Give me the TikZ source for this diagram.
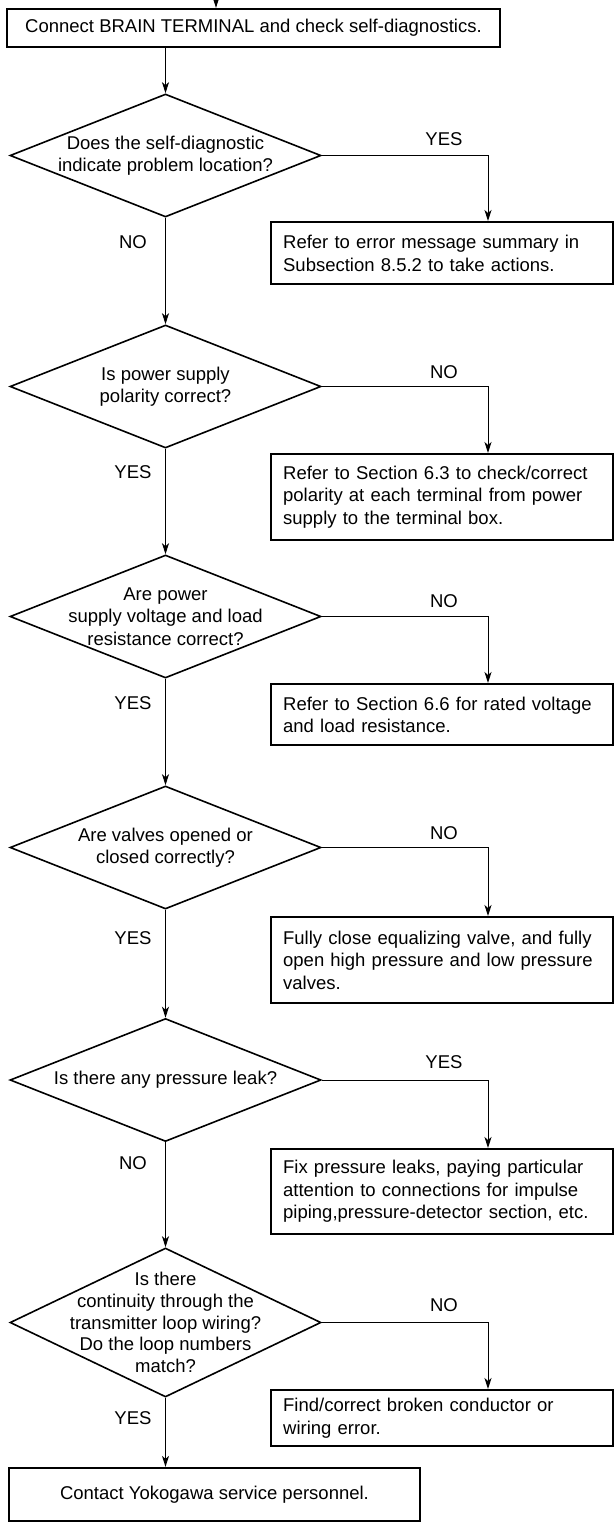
\documentclass[tikz,border=0pt]{standalone}
\usepackage{fontspec}
\setmainfont{Liberation Sans}
\usetikzlibrary{arrows.meta,shapes.geometric}
\begin{document}
\begin{tikzpicture}[x=1pt,y=-1pt,
  every node/.style={font=\fontsize{18.5}{22.5}\selectfont},
  boxr/.style={draw,line width=2.3pt,rectangle,minimum width=342pt,text width=318pt,inner xsep=12pt,inner ysep=0pt,align=left,anchor=north west},
  dia/.style={draw,line width=1.6pt,diamond,minimum width=311pt,minimum height=123pt,inner sep=0pt},
  dtext/.style={align=center,inner sep=0pt},
  lab/.style={inner sep=0pt},
  arr/.style={line width=1pt,-{Stealth[length=11pt,width=7pt,inset=3pt]}},
]
\useasboundingbox (0,0) rectangle (613,1523);
\coordinate (top) at (216,0);
\coordinate (brx) at (488,0);

\node[draw,line width=2.3pt,rectangle,minimum width=493pt,minimum height=38pt,inner sep=0pt] (b1) at (253.5,28) {Connect BRAIN TERMINAL and check self-diagnostics.};

\node[dia] (d1) at (165.5,155.5) {};
\node[dtext] (t1) at (d1) {Does the self-diagnostic\\indicate problem location?};
\node[boxr,minimum height=62pt] (b2) at (270,221) {Refer to error message summary in\\Subsection 8.5.2 to take actions.};

\node[dia] (d2) at (165.5,386.5) {};
\node[dtext] (t2) at (d2) {Is power supply\\polarity correct?};
\node[boxr,minimum height=86pt] (b3) at (270,453) {Refer to Section 6.3 to check/correct\\polarity at each terminal from power\\supply to the terminal box.};

\node[dia] (d3) at (165.5,616.5) {};
\node[dtext] (t3) at (d3) {Are power\\supply voltage and load\\resistance correct?};
\node[boxr,minimum height=61pt] (b4) at (270,683) {Refer to Section 6.6 for rated voltage\\and load resistance.};

\node[dia] (d4) at (165.5,847.5) {};
\node[dtext] (t4) at (d4) {Are valves opened or\\closed correctly?};
\node[boxr,minimum height=86pt] (b5) at (270,916) {Fully close equalizing valve, and fully\\open high pressure and low pressure\\valves.};

\node[dia] (d5) at (165.5,1080) {};
\node[dtext] (t5) at (d5) {Is there any pressure leak?};
\node[boxr,minimum height=85pt] (b6) at (270,1148) {Fix pressure leaks, paying particular\\attention to connections for impulse\\piping,pressure-detector section, etc.};

\node[dia,minimum height=149pt] (d6) at (165.5,1322.5) {};
\node[dtext,font=\fontsize{18.5}{21.7}\selectfont] (t6) at (d6) {Is there\\continuity through the\\transmitter loop wiring?\\Do the loop numbers\\match?};
\node[boxr,minimum height=56pt] (b7) at (270,1389) {Find/correct broken conductor or\\wiring error.};

\node[draw,line width=2.3pt,rectangle,minimum width=411pt,minimum height=53pt,inner sep=0pt] (b8) at (214.5,1494.5) {Contact Yokogawa service personnel.};

% labels
\node[lab] (l1) at (444,139) {YES};
\node[lab] (l2) at (133,242) {NO};
\node[lab] (l3) at (444,372) {NO};
\node[lab] (l4) at (133,472) {YES};
\node[lab] (l5) at (444,601) {NO};
\node[lab] (l6) at (133,703) {YES};
\node[lab] (l7) at (444,833) {NO};
\node[lab] (l8) at (133,938) {YES};
\node[lab] (l9) at (444,1062) {YES};
\node[lab] (l10) at (133,1163) {NO};
\node[lab] (l11) at (444,1305) {NO};
\node[lab] (l12) at (133,1418) {YES};

% connectors
\draw[arr] (top) -- (top |- b1.north);
\draw[arr] (d1.north |- b1.south) -- (d1.north);
\draw[arr] (d1.south) -- (d2.north);
\draw[arr] (d2.south) -- (d3.north);
\draw[arr] (d3.south) -- (d4.north);
\draw[arr] (d4.south) -- (d5.north);
\draw[arr] (d5.south) -- (d6.north);
\draw[arr] (d6.south) -- (d6.south |- b8.north);

\draw[arr] (d1.east) -| (brx |- b2.north);
\draw[arr] (d2.east) -| (brx |- b3.north);
\draw[arr] (d3.east) -| (brx |- b4.north);
\draw[arr] (d4.east) -| (brx |- b5.north);
\draw[arr] (d5.east) -| (brx |- b6.north);
\draw[arr] (d6.east) -| (brx |- b7.north);
\end{tikzpicture}
\end{document}
